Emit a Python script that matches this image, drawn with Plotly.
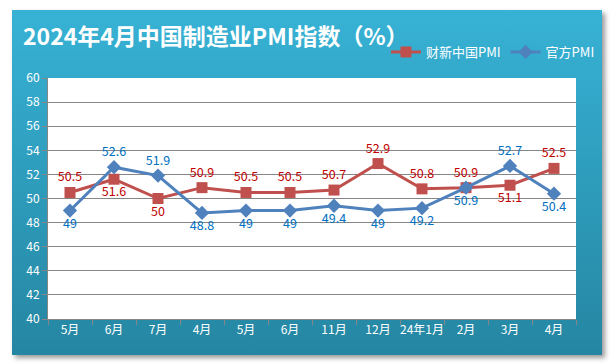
import base64
import plotly.graph_objects as go

categories = ["5月", "6月", "7月", "4月", "5月", "6月", "11月", "12月", "24年1月", "2月", "3月", "4月"]
caixin = [50.5, 51.6, 50, 50.9, 50.5, 50.5, 50.7, 52.9, 50.8, 50.9, 51.1, 52.5]
official = [49, 52.6, 51.9, 48.8, 49, 49, 49.4, 49, 49.2, 50.9, 52.7, 50.4]
y_ticks = [40, 42, 44, 46, 48, 50, 52, 54, 56, 58, 60]

caixin_pos = ["top center", "bottom center", "bottom center", "top center", "top center", "top center",
              "top center", "top center", "top center", "top center", "bottom center", "top center"]
official_pos = ["bottom center", "top center", "top center", "bottom center", "bottom center", "bottom center",
                "bottom center", "bottom center", "bottom center", "bottom center", "top center", "bottom center"]

W, H = 611, 364
L, R, T, B = 48, 576, 78, 319
pw, ph = R - L, B - T

svg = f'''<svg xmlns="http://www.w3.org/2000/svg" width="{W}" height="{H}" viewBox="0 0 {W} {H}">
<defs><linearGradient id="g" x1="0" y1="0" x2="0" y2="1"><stop offset="0" stop-color="#37b2d5"/><stop offset="1" stop-color="#2586a2"/></linearGradient>
<filter id="s" x="-5%" y="-5%" width="115%" height="115%"><feGaussianBlur stdDeviation="2.5"/></filter></defs>
<rect x="0" y="0" width="{W}" height="{H}" fill="#ffffff"/>
<rect x="15" y="13" width="590" height="345" fill="#999999" filter="url(#s)"/>
<rect x="12" y="10" width="590" height="345" fill="url(#g)"/>
</svg>'''
src = "data:image/svg+xml;base64," + base64.b64encode(svg.encode()).decode()

xs = list(range(len(categories)))
font = "Noto Sans CJK SC"

fig = go.Figure()
fig.add_trace(go.Scatter(
    x=xs, y=caixin, name="财新中国PMI", mode="lines+markers+text",
    line=dict(color="#c0504d", width=3), marker=dict(symbol="square", size=11, color="#c0504d"),
    text=[f"{v:g}" for v in caixin], textposition=caixin_pos,
    textfont=dict(color="#c00000", size=12.5, family=font), cliponaxis=False))
fig.add_trace(go.Scatter(
    x=xs, y=official, name="官方PMI", mode="lines+markers+text",
    line=dict(color="#4f81bd", width=3), marker=dict(symbol="diamond", size=11, color="#4f81bd"),
    text=[f"{v:g}" for v in official], textposition=official_pos,
    textfont=dict(color="#0070c0", size=12.5, family=font), cliponaxis=False))
fig.add_trace(go.Scatter(x=[-0.5], y=[40], xaxis="x2", showlegend=False, hoverinfo="skip",
                         mode="markers", marker=dict(opacity=0)))

fig.update_layout(
    width=W, height=H,
    margin=dict(l=L, r=W - R, t=T, b=H - B, autoexpand=False),
    paper_bgcolor="white", plot_bgcolor="white",
    font=dict(family=font, color="white", size=12),
    images=[dict(source=src, xref="paper", yref="paper", x=-L / pw, y=B / ph,
                 sizex=W / pw, sizey=H / ph, xanchor="left", yanchor="top",
                 sizing="stretch", layer="below")],
    shapes=[dict(type="rect", xref="paper", yref="paper", x0=0, x1=1, y0=0, y1=1,
                 fillcolor="white", line=dict(width=0), layer="below")],
    title=dict(text="<b>2024年4月中国制造业PMI指数（%）</b>", x=23 / W, xanchor="left",
               xref="container", y=1 - 37 / H, yanchor="middle",
               font=dict(size=23, color="white", family=font)),
    legend=dict(orientation="h", x=(386 - L) / pw, xanchor="left", y=(B - 52) / ph, yanchor="middle",
                font=dict(size=13, color="white", family=font), bgcolor="rgba(0,0,0,0)",
                itemwidth=30, tracegroupgap=0),
    xaxis=dict(range=[-0.5, len(categories) - 0.5], tickvals=xs, ticktext=categories,
               ticks="", showgrid=False, zeroline=False, showline=True, linecolor="#868686",
               tickfont=dict(color="white", size=12, family=font)),
    xaxis2=dict(overlaying="x", anchor="y", side="bottom", range=[-0.5, len(categories) - 0.5],
                tickvals=[i - 0.5 for i in range(len(categories) + 1)], showticklabels=False,
                ticks="outside", ticklen=5, tickcolor="#868686", showgrid=False, zeroline=False,
                showline=False),
    yaxis=dict(range=[40, 60], tickvals=y_ticks, ticks="outside", ticklen=5, tickcolor="#868686",
               showgrid=True, gridcolor="#868686", gridwidth=1, zeroline=False,
               showline=True, linecolor="#868686",
               tickfont=dict(color="white", size=12, family=font)),
)
fig.write_html("out.html", config={"displayModeBar": False},
               post_script="document.body.style.margin='0';document.body.style.overflow='hidden';")
